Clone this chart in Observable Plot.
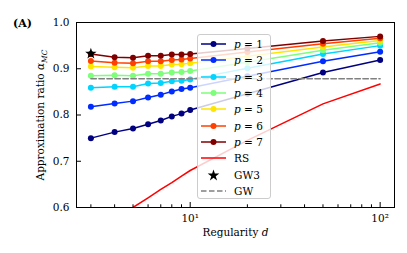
<!DOCTYPE html>
<html><head><meta charset="utf-8">
<script src="https://cdn.jsdelivr.net/npm/d3@7"></script>
<script src="https://cdn.jsdelivr.net/npm/@observablehq/plot@0.6"></script>
<style>
body{margin:0;background:#fff;}
#wrap{position:relative;width:407px;height:253px;font-family:"DejaVu Serif",serif;}
#legend{position:absolute;left:197px;top:34px;width:74px;height:165px;background:rgba(255,255,255,0.8);border:1px solid #cccccc;border-radius:3px;box-sizing:border-box;padding-top:1px;}
.row{height:16.3px;display:flex;align-items:center;font-size:10.5px;color:#000;font-family:"DejaVu Serif",serif;}
.row svg{margin-left:3px;margin-right:8px;}
</style></head>
<body><div id="wrap"><div id="chart"></div><div id="legend"></div></div>
<script>
const degrees = [3, 4, 5, 6, 7, 8, 9, 10, 20, 50, 100];
const p1 = [0.750, 0.763, 0.771, 0.780, 0.788, 0.797, 0.803, 0.811, 0.846, 0.892, 0.919];
const p2 = [0.818, 0.825, 0.830, 0.838, 0.844, 0.851, 0.856, 0.859, 0.884, 0.916, 0.937];
const p3 = [0.859, 0.861, 0.861, 0.868, 0.869, 0.873, 0.874, 0.877, 0.901, 0.932, 0.950];
const p4 = [0.885, 0.886, 0.885, 0.889, 0.889, 0.892, 0.893, 0.895, 0.914, 0.940, 0.956];
const p5 = [0.905, 0.903, 0.902, 0.906, 0.906, 0.909, 0.910, 0.912, 0.927, 0.947, 0.961];
const p6 = [0.917, 0.913, 0.912, 0.916, 0.916, 0.919, 0.920, 0.922, 0.936, 0.954, 0.966];
const p7 = [0.932, 0.925, 0.924, 0.928, 0.928, 0.931, 0.931, 0.932, 0.944, 0.960, 0.970];
const rs = [0.53, 0.57, 0.600, 0.621, 0.639, 0.654, 0.668, 0.680, 0.745, 0.824, 0.867];
const gw3 = {d: 3, v: 0.9326};
const gwValue = 0.8786;
const gwRange = [3, 100];
const pLabels = ["1", "2", "3", "4", "5", "6", "7"];
const pColors = ["#000080", "#002cff", "#00d4ff", "#7dff7a", "#ffe600", "#ff4000", "#800000"];
const yTicks = [0.6, 0.7, 0.8, 0.9, 1.0];
const xMajor = [10, 100];
const xMinor = [3, 4, 5, 6, 7, 8, 9, 20, 30, 40, 50, 60, 70, 80, 90];

const series = [p1, p2, p3, p4, p5, p6, p7];
const toRows = vals => degrees.map((d, i) => ({d, v: vals[i]}));

const marks = [];
series.forEach((vals, i) => {
  const rows = toRows(vals);
  marks.push(Plot.line(rows, {x: "d", y: "v", stroke: pColors[i], strokeWidth: 1.5}));
  marks.push(Plot.dot(rows, {x: "d", y: "v", fill: pColors[i], r: 3}));
});
marks.push(Plot.line(toRows(rs), {x: "d", y: "v", stroke: "#ff0000", strokeWidth: 1.5, clip: true}));
marks.push(Plot.dot([gw3], {x: "d", y: "v", symbol: "star", fill: "black", r: 3.6}));
marks.push(Plot.line(gwRange.map(d => ({d, v: gwValue})), {x: "d", y: "v", stroke: "#808080", strokeWidth: 1.5, strokeDasharray: "5.5,2.5"}));

const chart = Plot.plot({
  width: 407, height: 253,
  marginLeft: 76, marginRight: 13, marginTop: 22, marginBottom: 46,
  style: {fontFamily: "DejaVu Serif", fontSize: "10px", background: "white", color: "black"},
  x: {type: "log", domain: [2.52, 119], label: null},
  y: {domain: [0.6, 1.0], label: null},
  marks: [
    ...marks,
    Plot.frame({stroke: "black", strokeWidth: 1}),
    Plot.axisX({ticks: xMajor, tickSize: -5, tickPadding: 12, tickFormat: d => d === 10 ? "10¹" : "10²", label: null, fontSize: 10.5}),
    Plot.axisX({ticks: xMinor, tickSize: -2.7, tickFormat: () => "", label: null}),
    Plot.axisY({ticks: yTicks, tickSize: -5, tickPadding: 12, tickFormat: d3.format(".1f"), label: null, fontSize: 10.5}),
    Plot.text(["Approximation ratio α"], {frameAnchor: "left", textAnchor: "middle", rotate: -90, dx: -36, fontSize: 10.5}),
    Plot.text(["Regularity d"], {frameAnchor: "bottom", textAnchor: "middle", dy: 28, fontSize: 10.5}),
    Plot.text(["(A)"], {frameAnchor: "top-left", textAnchor: "start", dx: -63.5, dy: -3, fontWeight: "bold", fontSize: 11})
  ]
});
document.getElementById("chart").appendChild(chart);

d3.select(chart).selectAll("text").each(function() {
  const t = d3.select(this);
  const s = t.text();
  if (s === "Approximation ratio α") {
    t.text("Approximation ratio ");
    t.append("tspan").attr("font-style", "italic").text("α");
    t.append("tspan").attr("font-style", "italic").attr("font-size", 7.5).attr("dy", 3).text("MC");
  } else if (s === "Regularity d") {
    t.text("Regularity ");
    t.append("tspan").attr("font-style", "italic").text("d");
  }
});

// legend
const legend = d3.select("#legend");
const entries = pLabels.map((p, i) => ({kind: "p", label: p, color: pColors[i]}))
  .concat([{kind: "rs", label: "RS"}, {kind: "gw3", label: "GW3"}, {kind: "gw", label: "GW"}]);
entries.forEach(e => {
  const row = legend.append("div").attr("class", "row");
  const svg = row.append("svg").attr("width", 25).attr("height", 12);
  if (e.kind === "p") {
    svg.append("line").attr("x1", 0).attr("x2", 25).attr("y1", 6).attr("y2", 6).attr("stroke", e.color).attr("stroke-width", 1.5);
    svg.append("circle").attr("cx", 12.5).attr("cy", 6).attr("r", 3).attr("fill", e.color);
    const sp = row.append("span");
    sp.append("i").text("p");
    sp.append("span").text(" = " + e.label);
  } else if (e.kind === "rs") {
    svg.append("line").attr("x1", 0).attr("x2", 25).attr("y1", 6).attr("y2", 6).attr("stroke", "#ff0000").attr("stroke-width", 1.5);
    row.append("span").text(e.label);
  } else if (e.kind === "gw3") {
    svg.append("path").attr("d", d3.symbol(d3.symbolStar, 42)()).attr("transform", "translate(12.5,6.5)").attr("fill", "black");
    row.append("span").text(e.label);
  } else {
    svg.append("line").attr("x1", 0).attr("x2", 25).attr("y1", 6).attr("y2", 6).attr("stroke", "#808080").attr("stroke-width", 1.5).attr("stroke-dasharray", "5.5,2.5");
    row.append("span").text(e.label);
  }
});
</script></body></html>
